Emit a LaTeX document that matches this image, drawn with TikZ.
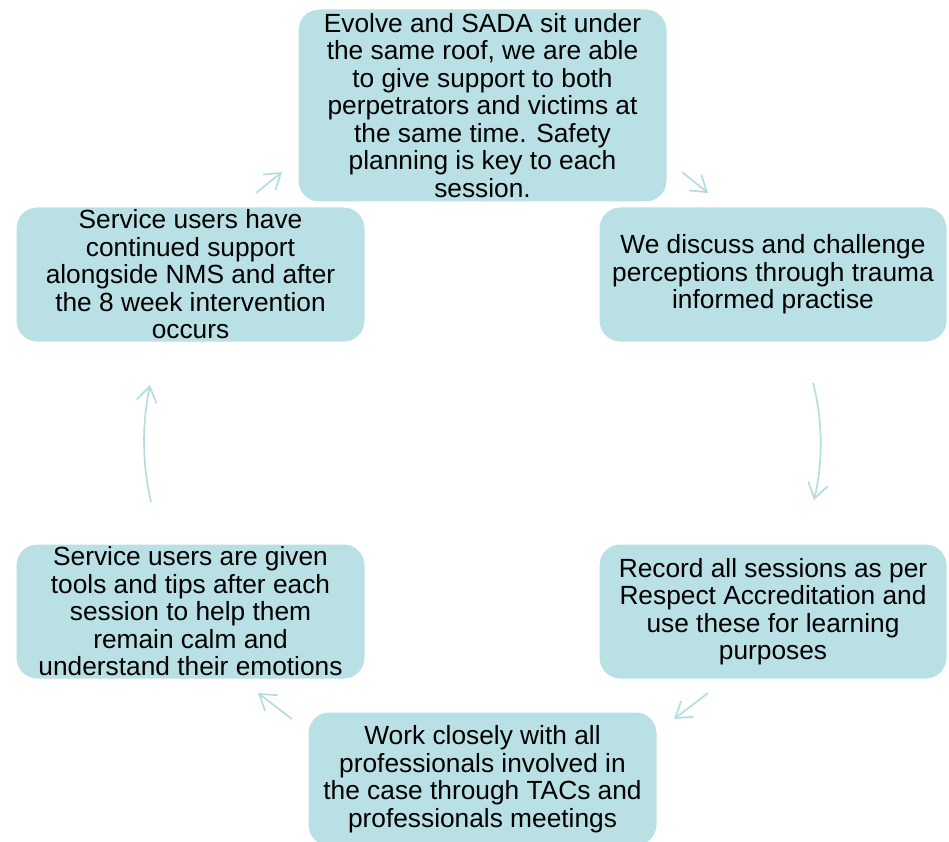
\documentclass[tikz,border=0pt]{standalone}
\usepackage{fontspec}
\setmainfont{Liberation Sans}
\usetikzlibrary{arrows.meta}
\definecolor{boxc}{HTML}{B9E0E4}
\definecolor{arrc}{HTML}{B3DDE2}
\tikzset{
  cyclebox/.style={fill=boxc, draw=white, line width=3pt, rounded corners=22pt,
    align=center, inner sep=0pt, font=\fontsize{26.3}{27.5}\selectfont, text=black},
  cyclearrow/.style={draw=arrc, line width=1.7pt,
    -{Straight Barb[length=15pt, width=20pt, line width=1.7pt]}}
}
\begin{document}
\begin{tikzpicture}[x=1pt, y=-1pt]
\useasboundingbox (0,0) rectangle (949,842);
\node[cyclebox, minimum width=371pt, minimum height=195pt] (top) at (482.5,105.5)
  {Evolve and SADA sit under\\the same roof, we are able\\to give support to both\\perpetrators and victims at\\the same time. Safety\\planning is key to each\\session.};
\node[cyclebox, minimum width=351pt, minimum height=137pt] (lt) at (190.5,274.5)
  {Service users have\\continued support\\alongside NMS and after\\the 8 week intervention\\occurs};
\node[cyclebox, minimum width=350pt, minimum height=137pt] (rt) at (773,274.5)
  {We discuss and challenge\\perceptions through trauma\\informed practise};
\node[cyclebox, minimum width=350pt, minimum height=137pt] (rb) at (773,611.5)
  {Record all sessions as per\\Respect Accreditation and\\use these for learning\\purposes};
\node[cyclebox, minimum width=351pt, minimum height=137pt] (lb) at (190.5,611.5)
  {Service users are given\\tools and tips after each\\session to help them\\remain calm and\\understand their emotions};
\node[cyclebox, minimum width=351pt, minimum height=136pt] (bot) at (482.5,779)
  {Work closely with all\\professionals involved in\\the case through TACs and\\professionals meetings};
\coordinate (a1s) at (256,193); \coordinate (a1e) at (282,172);
\coordinate (a2s) at (682,172); \coordinate (a2e) at (708,193);
\coordinate (a3s) at (813,383); \coordinate (a3e) at (814,500);
\coordinate (a4s) at (708,693); \coordinate (a4e) at (674,719);
\coordinate (a5s) at (292,719); \coordinate (a5e) at (258,693);
\coordinate (a6s) at (151,502); \coordinate (a6e) at (150,385);
\draw[cyclearrow] (a1s) -- (a1e);
\draw[cyclearrow] (a2s) -- (a2e);
\draw[cyclearrow] (a3s) .. controls (823,420) and (823,463) .. (a3e);
\draw[cyclearrow] (a4s) -- (a4e);
\draw[cyclearrow] (a5s) -- (a5e);
\draw[cyclearrow] (a6s) .. controls (142,463) and (142,424) .. (a6e);
\end{tikzpicture}
\end{document}
